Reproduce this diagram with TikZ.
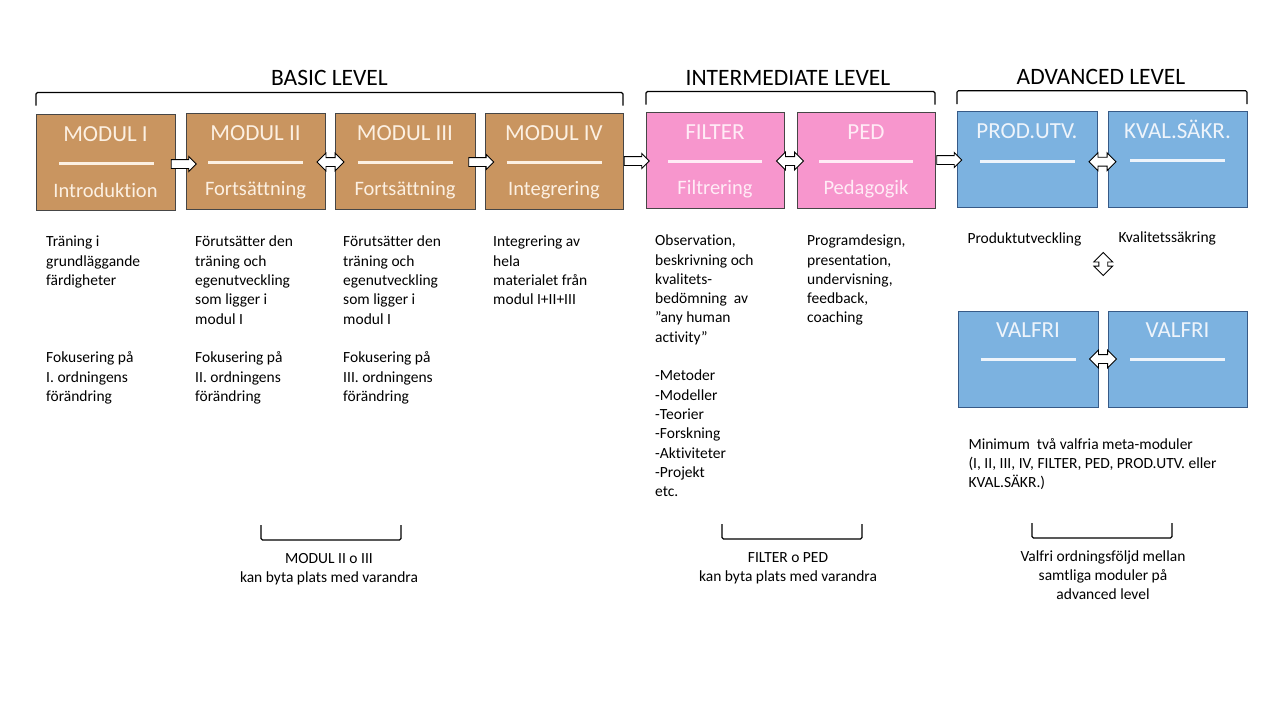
\documentclass[tikz,border=0pt]{standalone}
\usepackage{fontspec}
\setmainfont{Carlito}[Ligatures=NoCommon]
\usetikzlibrary{shapes.arrows,calc}
\definecolor{cbrown}{RGB}{201,149,96}
\definecolor{cpink}{RGB}{247,150,205}
\definecolor{cblue}{RGB}{124,178,224}
\definecolor{tbrown}{RGB}{252,240,226}
\definecolor{tpink}{RGB}{255,236,246}
\definecolor{tblue}{RGB}{238,244,251}
\definecolor{edgegray}{RGB}{70,70,70}
\definecolor{edgeblue}{RGB}{55,90,135}
\tikzset{
  modbox/.style={line width=0.9pt, minimum width=139pt, minimum height=96pt, inner sep=0pt},
  brownbox/.style={modbox, draw=edgegray, fill=cbrown},
  pinkbox/.style={modbox, draw=edgegray, fill=cpink},
  bluebox/.style={modbox, draw=edgeblue, fill=cblue},
  boxtitle/.style={anchor=base, inner sep=0pt, font=\fontsize{23}{27}\selectfont},
  boxsub/.style={anchor=base, inner sep=0pt, font=\fontsize{20.5}{24}\selectfont},
  boxrule/.style={line width=3pt},
  leveltitle/.style={anchor=base, inner sep=0pt, font=\fontsize{23.5}{28}\selectfont},
  bodytext/.style={anchor=north west, inner sep=0pt, align=left, font=\fontsize{15.5}{19.3}\selectfont},
  notetext/.style={anchor=north, inner sep=0pt, align=center, font=\fontsize{15.5}{19}\selectfont},
  brk/.style={line width=1.1pt, draw=black, rounded corners=1.5pt},
  fwd/.style={single arrow, draw=black, fill=white, line width=0.9pt, inner sep=4pt,
    single arrow head extend=3pt, minimum height=25pt, minimum width=14pt},
  both/.style={double arrow, draw=black, fill=white, line width=0.9pt, inner sep=4pt,
    double arrow head extend=4.5pt, minimum height=27pt, minimum width=17pt},
}
\begin{document}
\begin{tikzpicture}[x=1pt,y=-1pt]
\useasboundingbox (0,0) rectangle (1278,718);
\fill[white] (0,0) rectangle (1278,718);

% level titles and brackets
\node[leveltitle] (basic) at (329.5,85) {BASIC LEVEL};
\node[leveltitle] (inter) at (788,85) {INTERMEDIATE LEVEL};
\node[leveltitle] (adv) at (1101,84) {ADVANCED LEVEL};
\draw[brk] (36,105.5) -- (36,92.5) -- (623,92.5) -- (623,105.5);
\draw[brk] (646,104.5) -- (646,91.5) -- (935,91.5) -- (935,104.5);
\draw[brk] (957,104) -- (957,90.7) -- (1247,90.7) -- (1247,104);

% boxes
\node[brownbox] (m1) at (105.5,162) {};
\node[brownbox] (m2) at (255.5,161) {};
\node[brownbox, minimum width=140pt] (m3) at (405,161) {};
\node[brownbox, minimum width=138pt] (m4) at (554,161) {};
\node[pinkbox, minimum width=138pt] (fi) at (715,160) {};
\node[pinkbox, minimum width=138pt] (pe) at (866,160) {};
\node[bluebox, minimum width=140pt, minimum height=95.5pt] (pu) at (1027,159.5) {};
\node[bluebox] (ks) at (1177.5,159) {};
\node[bluebox, minimum width=140pt] (v1) at (1028,359) {};
\node[bluebox] (v2) at (1177.5,359) {};

% box labels
\node[boxtitle, text=tbrown] (m1t) at ($(m1.north)+(0,27.5)$) {MODUL I};
\draw[boxrule, draw=tbrown] ($(m1.north)+(-46.5,50.3)$) -- ($(m1.north)+(48.5,50.3)$);
\node[boxsub, text=tbrown] (m1s) at ($(m1.north)+(0,84)$) {Introduktion};

\node[boxtitle, text=tbrown] (m2t) at ($(m2.north)+(0,27.5)$) {MODUL II};
\draw[boxrule, draw=tbrown] ($(m2.north)+(-47.5,50.3)$) -- ($(m2.north)+(47.5,50.3)$);
\node[boxsub, text=tbrown] (m2s) at ($(m2.north)+(0,83)$) {Fortsättning};

\node[boxtitle, text=tbrown] (m3t) at ($(m3.north)+(0,27.5)$) {MODUL III};
\draw[boxrule, draw=tbrown] ($(m3.north)+(-47.5,50.3)$) -- ($(m3.north)+(47.5,50.3)$);
\node[boxsub, text=tbrown] (m3s) at ($(m3.north)+(0,83)$) {Fortsättning};

\node[boxtitle, text=tbrown] (m4t) at ($(m4.north)+(0,27.5)$) {MODUL IV};
\draw[boxrule, draw=tbrown] ($(m4.north)+(-47.5,50.3)$) -- ($(m4.north)+(47.5,50.3)$);
\node[boxsub, text=tbrown] (m4s) at ($(m4.north)+(0,83)$) {Integrering};

\node[boxtitle, text=tpink] (fit) at ($(fi.north)+(0,27.5)$) {FILTER};
\draw[boxrule, draw=tpink] ($(fi.north)+(-47,50.3)$) -- ($(fi.north)+(47,50.3)$);
\node[boxsub, text=tpink] (fis) at ($(fi.north)+(0,83)$) {Filtrering};

\node[boxtitle, text=tpink] (pet) at ($(pe.north)+(0,27.5)$) {PED};
\draw[boxrule, draw=tpink] ($(pe.north)+(-47,50.3)$) -- ($(pe.north)+(47,50.3)$);
\node[boxsub, text=tpink] (pes) at ($(pe.north)+(0,83)$) {Pedagogik};

\node[boxtitle, text=tblue] (put) at ($(pu.north)+(0,27.5)$) {PROD.UTV.};
\draw[boxrule, draw=tblue] ($(pu.north)+(-47,50)$) -- ($(pu.north)+(48,50)$);

\node[boxtitle, text=tblue] (kst) at ($(ks.north)+(0,27.5)$) {KVAL.SÄKR.};
\draw[boxrule, draw=tblue] ($(ks.north)+(-47.5,50)$) -- ($(ks.north)+(47.5,50)$);

\node[boxtitle, text=tblue] (v1t) at ($(v1.north)+(0,27)$) {VALFRI};
\draw[boxrule, draw=tblue] ($(v1.north)+(-47.5,49.3)$) -- ($(v1.north)+(47.5,49.3)$);

\node[boxtitle, text=tblue] (v2t) at ($(v2.north)+(0,27)$) {VALFRI};
\draw[boxrule, draw=tblue] ($(v2.north)+(-47.5,49.3)$) -- ($(v2.north)+(47.5,49.3)$);

% block arrows between boxes
\node[fwd]  (a12) at (181.5,164) {};
\node[both] (a23) at (330.5,162) {};
\node[fwd]  (a34) at (479,162) {};
\node[fwd]  (a4f) at (634.5,161) {};
\node[both] (afp) at (790,161) {};
\node[fwd]  (app) at (947,160) {};
\node[both] (apk) at (1102.5,161.7) {};
\node[both] (avv) at (1103,359) {};
\node[both, rotate=90, minimum height=23pt, double arrow head extend=5pt] (avert) at (1103.3,264) {};

% body texts
\node[bodytext] (t1a) at (46,233.2) {\strut Träning i\\grundläggande\\färdigheter};
\node[bodytext] (t1b) at (46,349) {\strut Fokusering på\\I. ordningens\\förändring};
\node[bodytext] (t2a) at (195,233.2) {\strut Förutsätter den\\träning och\\egenutveckling\\som ligger i\\modul I};
\node[bodytext] (t2b) at (195,349) {\strut Fokusering på\\II. ordningens\\förändring};
\node[bodytext] (t3a) at (343,233.2) {\strut Förutsätter den\\träning och\\egenutveckling\\som ligger i\\modul I};
\node[bodytext] (t3b) at (343,349) {\strut Fokusering på\\III. ordningens\\förändring};
\node[bodytext] (t4a) at (493,233.2) {\strut Integrering av\\hela\\materialet från\\modul I+II+III};
\node[bodytext] (t5a) at (655,232) {\strut Observation,\\beskrivning och\\kvalitets-\\bedömning\ \ av\\”any human\\activity”};
\node[bodytext] (t5b) at (655,367.1) {\strut -Metoder\\-Modeller\\-Teorier\\-Forskning\\-Aktiviteter\\-Projekt\\etc.};
\node[bodytext] (t6a) at (807,232) {\strut Programdesign,\\presentation,\\undervisning,\\feedback,\\coaching};
\node[bodytext] (tpu) at (967.3,229.8) {\strut Produktutveckling};
\node[bodytext] (tks) at (1118.3,229.2) {\strut Kvalitetssäkring};
\node[bodytext] (tmin) at (968.3,435.5) {\strut Minimum\ \ två valfria meta-moduler\\(I, II, III, IV, FILTER, PED, PROD.UTV. eller\\KVAL.SÄKR.)};

% bottom brackets and notes
\draw[brk] (261,525) -- (261,540) -- (401,540) -- (401,525);
\draw[brk] (722,524) -- (722,539) -- (862,539) -- (862,524);
\draw[brk] (1032,523) -- (1032,538) -- (1172,538) -- (1172,523);
\node[notetext] (n1) at (329,549.5) {\strut MODUL II o III\\kan byta plats med varandra};
\node[notetext] (n2) at (788,548.5) {\strut FILTER o PED\\kan byta plats med varandra};
\node[notetext] (n3) at (1103,547.5) {\strut Valfri ordningsföljd mellan\\samtliga moduler på\\advanced level};
\end{tikzpicture}
\end{document}
